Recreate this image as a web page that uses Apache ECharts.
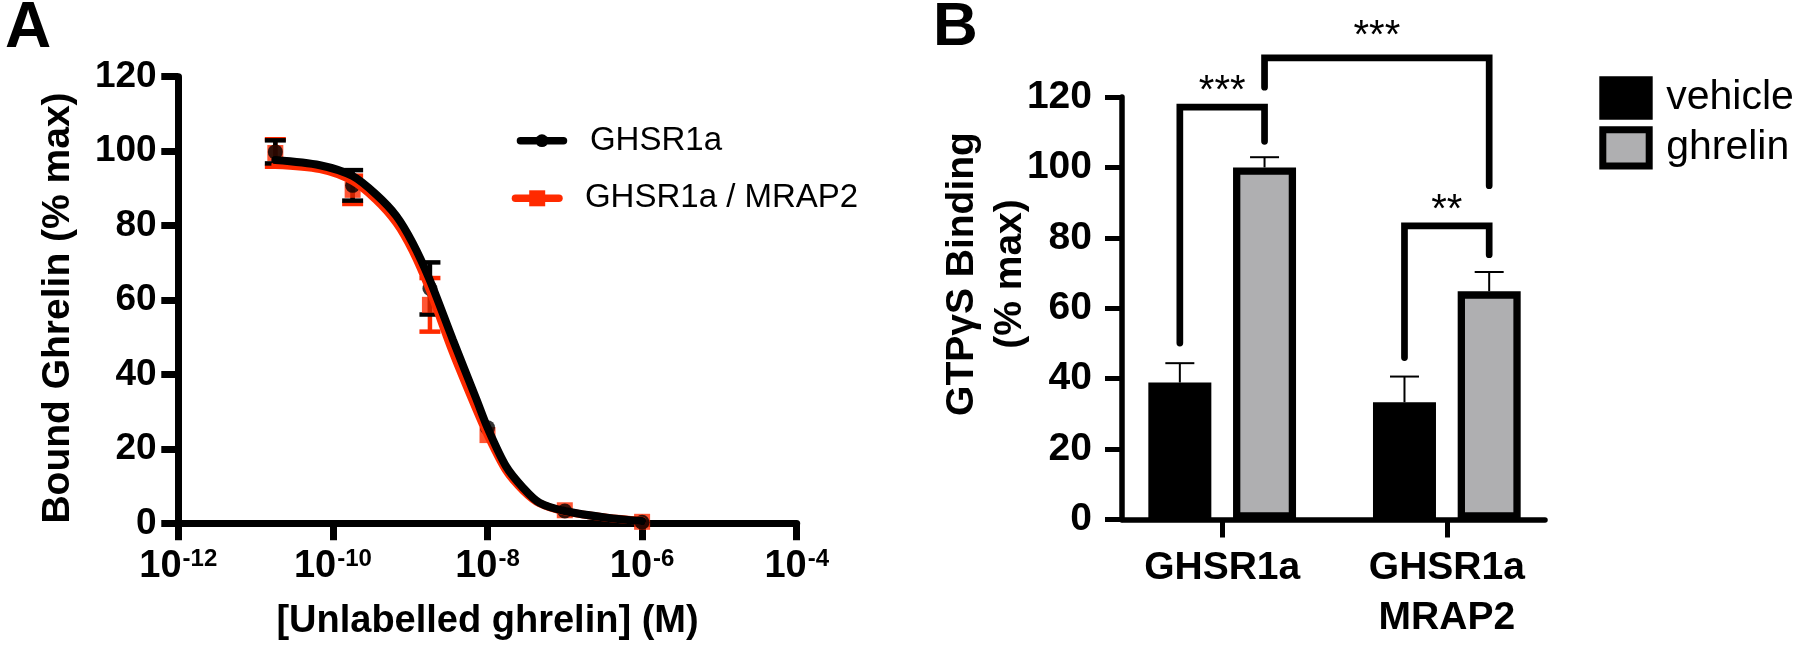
<!DOCTYPE html>
<html><head><meta charset="utf-8">
<script src="https://cdn.jsdelivr.net/npm/echarts@6/dist/echarts.min.js"></script>
<style>html,body{margin:0;padding:0;background:#fff}#c{width:1800px;height:649px}</style>
</head><body><div id="c"></div>
<script>
const FONT = "'Liberation Sans', Arial, Helvetica, sans-serif";

// ---------- Panel A data ----------
const concentrations = [1.8e-11, 1.8e-10, 1.8e-9, 1e-8, 1e-7, 1e-6];
const ghsrMean = [99.8, 90.8, 63.1, 25.7, 3.3, 0.3];
const ghsrSem  = [3.1, 4.1, 7.0, 0.9, 0.8, 0.3];
const mrapMean = [99.5, 89.6, 58.7, 23.7, 3.5, 0.4];
const mrapSem  = [3.7, 3.8, 7.2, 1.0, 0.9, 0.3];
const fitConc = [1.8e-11, 6.8e-11, 1.8e-10, 3.6e-10, 6.6e-10, 1.07e-9, 1.78e-9, 3.55e-9, 7.2e-9, 1e-8, 1.74e-8, 2.9e-8, 4.7e-8, 1e-7, 3.5e-7, 1e-6];
const ghsrFit = [97.6, 96.2, 93.3, 88.4, 82.6, 75.4, 65.5, 49.4, 33.3, 25.7, 15.3, 9.5, 5.5, 3.3, 1.5, 0.6];
const mrapFit = [96.3, 95.2, 92.0, 87.0, 80.8, 73.3, 62.8, 46.0, 30.5, 23.8, 14.2, 8.8, 5.4, 3.2, 1.5, 0.7];
const xTicksA = [1e-12, 1e-10, 1e-8, 1e-6, 1e-4];
const seriesNamesA = ['GHSR1a', 'GHSR1a / MRAP2'];

// ---------- Panel B data ----------
const groups = ['GHSR1a', 'GHSR1a\nMRAP2'];
const groupPos = [0, 1];
const vehicleMean = [38.9, 33.3];
const vehicleSem  = [5.5, 7.3];
const ghrelinMean = [100.0, 64.8];
const ghrelinSem  = [2.9, 5.5];
const bracketStart = [[0, 'vehicle', 50.1], [0, 'ghrelin', 122.8], [1, 'vehicle', 46.0]];
const bracketEnd   = [[0, 'ghrelin', 107.4], [1, 'ghrelin', 94.8], [1, 'ghrelin', 75.2]];
const bracketTop   = [117.1, 131.1, 83.4];
const starLevel    = [124.0, 139.6, 90.3];
const starText     = ['***', '***', '**'];

// ---------- styling constants ----------
const RED = '#ff2a00';
const GREY = '#afafb1';
const BAR_W = 63, BAR_GAP_PX = 21.7;
const barOffset = k => (k === 'vehicle' ? -1 : 1) * (BAR_W + BAR_GAP_PX) / 2;

function errA(mean, sem, color, r) {
  return {
    type: 'custom', xAxisIndex: 0, yAxisIndex: 0, silent: true,
    data: concentrations.map((c, i) => [c, mean[i], sem[i]]),
    renderItem(params, api) {
      const c = api.value(0), m = api.value(1), s = api.value(2);
      const p = api.coord([c, m]), hi = api.coord([c, m + s]), lo = api.coord([c, m - s]);
      if (p[1] - hi[1] <= r) return null;
      const st = { stroke: color, lineWidth: 4.5 };
      return { type: 'group', children: [
        { type: 'line', shape: { x1: p[0], y1: hi[1], x2: p[0], y2: lo[1] }, style: st },
        { type: 'line', shape: { x1: p[0] - 10.5, y1: hi[1], x2: p[0] + 10.5, y2: hi[1] }, style: st },
        { type: 'line', shape: { x1: p[0] - 10.5, y1: lo[1], x2: p[0] + 10.5, y2: lo[1] }, style: st }
      ]};
    }
  };
}

function errB(mean, sem, key) {
  return {
    type: 'custom', xAxisIndex: 1, yAxisIndex: 1, silent: true, z: 3,
    data: groupPos.map((g, i) => [g, mean[i], sem[i]]),
    renderItem(params, api) {
      const g = api.value(0), m = api.value(1), s = api.value(2);
      const p = api.coord([g, m]), hi = api.coord([g, m + s]);
      const x = p[0] + barOffset(key);
      const st = { stroke: '#000', lineWidth: 2 };
      return { type: 'group', children: [
        { type: 'line', shape: { x1: x, y1: p[1], x2: x, y2: hi[1] }, style: st },
        { type: 'line', shape: { x1: x - 14.5, y1: hi[1], x2: x + 14.5, y2: hi[1] }, style: st }
      ]};
    }
  };
}

const chart = echarts.init(document.getElementById('c'), null, { renderer: 'canvas' });
const axisFont = { fontFamily: FONT, fontWeight: 'bold', color: '#000' };

chart.setOption({
  animation: false,
  backgroundColor: '#fff',
  textStyle: { fontFamily: FONT, color: '#000' },
  grid: [
    { left: 178.3, top: 76.7, width: 618.4, height: 446.6, outerBoundsMode: 'none', containLabel: false },
    { left: 1122, top: 97, width: 423, height: 422.5, outerBoundsMode: 'none', containLabel: false }
  ],
  xAxis: [
    { type: 'log', logBase: 10, gridIndex: 0, min: 1e-12, max: 1e-4,
      axisLine: { show: true, onZero: false, lineStyle: { color: '#000', width: 7 } },
      axisTick: { show: true, customValues: xTicksA, length: 17, lineStyle: { color: '#000', width: 7 } },
      minorTick: { show: false }, splitLine: { show: false },
      axisLabel: { show: true, customValues: xTicksA, margin: 24,
        formatter: v => '{b|10}{s|' + Math.round(Math.log10(v)) + '}',
        rich: {
          b: { fontSize: 38, fontWeight: 'bold', fontFamily: FONT, color: '#000' },
          s: { fontSize: 24, fontWeight: 'bold', fontFamily: FONT, color: '#000', padding: [0, 0, 13, 1] }
        } } },
    { type: 'value', gridIndex: 1, min: -0.446, max: 1.437,
      axisLine: { show: true, onZero: false, lineStyle: { color: '#000', width: 5.5 } },
      axisTick: { show: true, customValues: groupPos, length: 18, lineStyle: { color: '#000', width: 5 } },
      splitLine: { show: false },
      axisLabel: Object.assign({ show: true, customValues: groupPos, fontSize: 39, lineHeight: 50, margin: 23.5,
        formatter: v => groups[Math.round(v)] }, axisFont) }
  ],
  yAxis: [
    { type: 'value', gridIndex: 0, min: 0, max: 120, interval: 20,
      axisLine: { show: true, onZero: false, lineStyle: { color: '#000', width: 7 } },
      axisTick: { show: true, length: 17, lineStyle: { color: '#000', width: 7 } },
      splitLine: { show: false },
      axisLabel: Object.assign({ fontSize: 37, margin: 21.6 }, axisFont) },
    { type: 'value', gridIndex: 1, min: 0, max: 120, interval: 20,
      axisLine: { show: true, onZero: false, lineStyle: { color: '#000', width: 5.5 } },
      axisTick: { show: true, length: 17, lineStyle: { color: '#000', width: 5 } },
      splitLine: { show: false },
      axisLabel: Object.assign({ fontSize: 39, margin: 30 }, axisFont) }
  ],
  legend: [
    { data: [seriesNamesA[0]], orient: 'vertical', left: 516.7, top: 124.2, padding: 0,
      itemWidth: 43, itemHeight: 16, selectedMode: false,
      lineStyle: { width: 7.5, cap: 'round' },
      textStyle: { fontFamily: FONT, fontSize: 33, color: '#000', padding: [0, 0, 0, 21.5] } },
    { data: [seriesNamesA[1]], orient: 'vertical', left: 511.7, top: 181.8, padding: 0,
      itemWidth: 43.5, itemHeight: 20, selectedMode: false,
      lineStyle: { width: 7.5, cap: 'round' },
      textStyle: { fontFamily: FONT, fontSize: 33, color: '#000', padding: [0, 0, 0, 21] } },
    { data: ['vehicle', 'ghrelin'], orient: 'vertical', left: 1599.3, top: 76.35, padding: 0,
      itemGap: 6.6, itemWidth: 46.4, itemHeight: 36.3, icon: 'rect', selectedMode: false,
      itemStyle: { borderWidth: 7 },
      textStyle: { fontFamily: FONT, fontSize: 41, color: '#000', padding: [0, 0, 11, 12] } }
  ],
  graphic: [
    { type: 'text', x: 5, y: 29.7, style: { text: 'A', font: 'bold 64px ' + FONT, fill: '#000', align: 'left', verticalAlign: 'middle', textAlign: 'left', textVerticalAlign: 'middle' } },
    { type: 'text', x: 933, y: 28, style: { text: 'B', font: 'bold 62px ' + FONT, fill: '#000', align: 'left', verticalAlign: 'middle', textAlign: 'left', textVerticalAlign: 'middle' } },
    { type: 'text', x: 58, y: 308, rotation: Math.PI / 2, style: { text: 'Bound Ghrelin (% max)', font: 'bold 39px ' + FONT, fill: '#000', align: 'center', verticalAlign: 'middle', textAlign: 'center', textVerticalAlign: 'middle' } },
    { type: 'text', x: 487.5, y: 622, style: { text: '[Unlabelled ghrelin] (M)', font: 'bold 38px ' + FONT, fill: '#000', align: 'center', verticalAlign: 'middle', textAlign: 'center', textVerticalAlign: 'middle' } },
    { type: 'text', x: 986.3, y: 274, rotation: Math.PI / 2, style: { text: 'GTPγS Binding\n(% max)', font: 'bold 39px ' + FONT, lineHeight: 48, fill: '#000', align: 'center', verticalAlign: 'middle', textAlign: 'center', textVerticalAlign: 'middle' } }
  ],
  series: [
    // Panel A: red (GHSR1a / MRAP2) underneath
    { name: seriesNamesA[1], type: 'line', xAxisIndex: 0, yAxisIndex: 0, smooth: 0.3,
      symbol: 'rect', showSymbol: false, silent: true, color: RED,
      lineStyle: { color: RED, width: 8, cap: 'round' },
      data: fitConc.map((c, i) => [c, mrapFit[i]]) },
    errA(mrapMean, mrapSem, RED, 8),
    { name: 'mrap-points', type: 'scatter', xAxisIndex: 0, yAxisIndex: 0, symbol: 'rect', symbolSize: 16, silent: true,
      itemStyle: { color: RED }, data: concentrations.map((c, i) => [c, mrapMean[i]]) },
    // Panel A: black (GHSR1a)
    { name: seriesNamesA[0], type: 'line', xAxisIndex: 0, yAxisIndex: 0, smooth: 0.3,
      symbol: 'circle', showSymbol: false, silent: true, color: '#000',
      lineStyle: { color: '#000', width: 8, cap: 'round' },
      data: fitConc.map((c, i) => [c, ghsrFit[i]]) },
    errA(ghsrMean, ghsrSem, '#000', 7.5),
    { name: 'ghsr-points', type: 'scatter', xAxisIndex: 0, yAxisIndex: 0, symbol: 'circle', symbolSize: 15, silent: true,
      itemStyle: { color: '#000' }, data: concentrations.map((c, i) => [c, ghsrMean[i]]) },
    // Panel B bars
    { name: 'vehicle', type: 'bar', xAxisIndex: 1, yAxisIndex: 1, barWidth: BAR_W, barGap: (BAR_GAP_PX / BAR_W * 100) + '%',
      silent: true, itemStyle: { color: '#000', borderColor: '#000', borderWidth: 7.3 },
      data: groupPos.map((g, i) => [g, vehicleMean[i]]) },
    { name: 'ghrelin', type: 'bar', xAxisIndex: 1, yAxisIndex: 1, barWidth: BAR_W, barGap: (BAR_GAP_PX / BAR_W * 100) + '%',
      silent: true, itemStyle: { color: GREY, borderColor: '#000', borderWidth: 7.3 },
      data: groupPos.map((g, i) => [g, ghrelinMean[i]]) },
    errB(vehicleMean, vehicleSem, 'vehicle'),
    errB(ghrelinMean, ghrelinSem, 'ghrelin'),
    // significance brackets
    { type: 'custom', xAxisIndex: 1, yAxisIndex: 1, silent: true, z: 4, clip: false,
      data: bracketTop.map((t, i) => [bracketStart[i][0], t]),
      renderItem(params, api) {
        const i = params.dataIndex;
        const s = bracketStart[i], e = bracketEnd[i];
        const xs = api.coord([s[0], 0])[0] + barOffset(s[1]);
        const xe = api.coord([e[0], 0])[0] + barOffset(e[1]);
        const ys = api.coord([0, s[2]])[1], ye = api.coord([0, e[2]])[1];
        const yt = api.coord([0, bracketTop[i]])[1];
        const yStar = api.coord([0, starLevel[i]])[1];
        return { type: 'group', children: [
          { type: 'polyline', shape: { points: [[xs, ys], [xs, yt], [xe, yt], [xe, ye]] },
            style: { stroke: '#000', fill: null, lineWidth: 6.7, lineCap: 'round', lineJoin: 'miter' } },
          { type: 'text', x: (xs + xe) / 2, y: yStar + 9,
            style: { text: starText[i], fill: '#000', font: '40px ' + FONT, align: 'center', verticalAlign: 'middle', textAlign: 'center', textVerticalAlign: 'middle' } }
        ]};
      } }
  ]
});
</script>
</body></html>
